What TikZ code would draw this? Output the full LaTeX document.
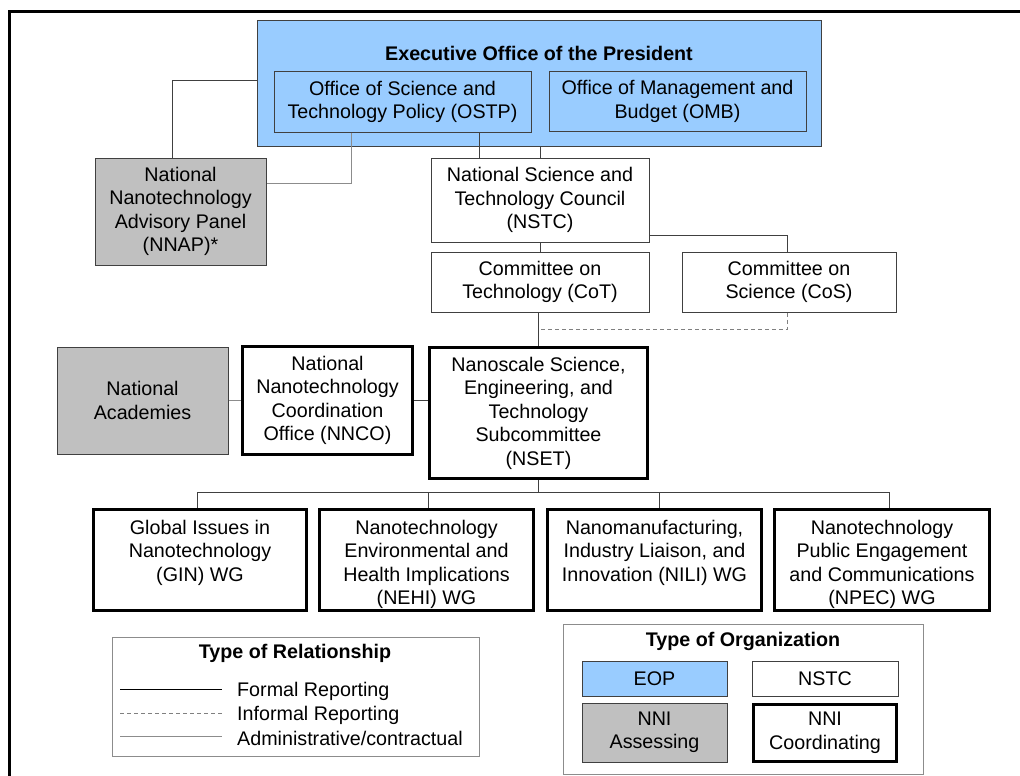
\documentclass[tikz,border=0pt]{standalone}
\usepackage{fontspec}
\setmainfont{Liberation Sans}
\definecolor{eopblue}{HTML}{99CCFF}
\definecolor{nnigray}{HTML}{C0C0C0}
\definecolor{edgecol}{HTML}{404040}
\definecolor{admincol}{HTML}{8C8C8C}
\begin{document}
\begin{tikzpicture}[x=1pt,y=-1pt,
  every node/.style={font=\fontsize{19.7}{23.5}\selectfont, align=center, inner sep=1pt},
  thinbox/.style={draw=edgecol, line width=1pt, rectangle},
  thickbox/.style={draw=black, line width=3pt, rectangle},
  formal/.style={draw=edgecol, line width=1pt},
  admin/.style={draw=admincol, line width=1pt},
  informal/.style={draw=gray, line width=1pt, dash pattern=on 4pt off 3pt},
  boldtitle/.style={font=\fontsize{19.7}{23.5}\selectfont\bfseries},
]
\useasboundingbox (0,0) rectangle (1020,776);
\fill[white] (0,0) rectangle (1020,776);
% outer frame (cropped)
\draw[line width=3pt] (9,776) -- (9,12) -- (1020,12);

% EOP
\node[thinbox, fill=eopblue, minimum width=564pt, minimum height=125pt] (EOP) at (539,83.5) {};
\node[boldtitle] (EOPt) at (539,53) {Executive Office of the President};
\node[thinbox, fill=eopblue, minimum width=257pt, minimum height=60pt] (OSTP) at (402.5,102) {Office of Science and\\Technology Policy (OSTP)};
\node[thinbox, fill=eopblue, minimum width=257pt, minimum height=60pt] (OMB) at (677.5,101.5) {Office of Management and\\Budget (OMB)};

% Advisory / NSTC
\node[thinbox, fill=nnigray, minimum width=171pt, minimum height=107pt] (NNAP) at (180.5,211.5) {National\\Nanotechnology\\Advisory Panel\\(NNAP)*};
\node[thinbox, fill=white, minimum width=218pt, minimum height=84pt] (NSTC) at (540,200) {National Science and\\Technology Council\\(NSTC)};
\node[thinbox, minimum width=218pt, minimum height=60pt] (CoT) at (540,282) {Committee on\\Technology (CoT)};
\node[thinbox, minimum width=214pt, minimum height=60pt] (CoS) at (789,282) {Committee on\\Science (CoS)};

% middle row
\node[thinbox, fill=nnigray, minimum width=171pt, minimum height=107pt] (NA) at (142.5,400.5) {National\\Academies};
\node[thickbox, minimum width=170pt, minimum height=108pt] (NNCO) at (327.5,400.5) {National\\Nanotechnology\\Coordination\\Office (NNCO)};
\node[thickbox, minimum width=218pt, minimum height=131pt] (NSET) at (538.5,413) {Nanoscale Science,\\Engineering, and\\Technology\\Subcommittee\\(NSET)};

% working groups
\node[thickbox, minimum width=213pt, minimum height=101pt] (GIN) at (200,560) {};
\node[thickbox, minimum width=214pt, minimum height=101pt] (NEHI) at (426.5,560) {};
\node[thickbox, minimum width=214pt, minimum height=101pt] (NILI) at (654.5,560) {};
\node[thickbox, minimum width=215pt, minimum height=101pt] (NPEC) at (882,560) {};
\node[anchor=north] (GINt) at (200,519) {Global Issues in\\Nanotechnology\\(GIN) WG};
\node[anchor=north] (NEHIt) at (426.5,519) {Nanotechnology\\Environmental and\\Health Implications\\(NEHI) WG};
\node[anchor=north] (NILIt) at (654.5,519) {Nanomanufacturing,\\Industry Liaison, and\\Innovation (NILI) WG};
\node[anchor=north] (NPECt) at (882,519) {Nanotechnology\\Public Engagement\\and Communications\\(NPEC) WG};

% helper coordinates
\coordinate (a1) at (172,81);
\coordinate (a2) at (351,183);
\coordinate (a3) at (479,0);
\coordinate (a4) at (0,235);
\coordinate (a5) at (0,329);
\coordinate (bus) at (0,492);
\coordinate (d1) at (197,0);
\coordinate (d2) at (428,0);
\coordinate (d3) at (659,0);
\coordinate (d4) at (889,0);

% connectors
\draw[formal] (a1 -| EOP.west) -| (NNAP.north -| a1);
\draw[admin] (OSTP.south -| a2) |- (NNAP.east |- a2);
\draw[formal] (OSTP.south -| a3) -- (NSTC.north -| a3);
\draw[formal] (EOP.south -| NSTC.north) -- (NSTC.north);
\draw[formal] (NSTC.south) -- (CoT.north);
\draw[formal] (NSTC.east |- a4) -| (CoS.north -| 787,0);
\draw[formal] (CoT.south -| NSET.north) -- (NSET.north);
\draw[informal] (CoS.south -| 787,0) |- (NSET.north |- a5);
\draw[admin] (NA.east |- NNCO.east) -- (NNCO.west);
\draw[formal] (NNCO.east) -- (NNCO.east -| NSET.west);
\draw[formal] (NSET.south) -- (NSET.south |- bus);
\draw[formal] (GIN.north -| d1) |- (bus -| d4) -- (NPEC.north -| d4);
\draw[formal] (bus -| d2) -- (NEHI.north -| d2);
\draw[formal] (bus -| d3) -- (NILI.north -| d3);

% legend: relationship
\node[thinbox, draw=admincol, minimum width=367pt, minimum height=119pt] (L1) at (295.5,696.5) {};
\node[boldtitle] (L1t) at (295,653) {Type of Relationship};
\coordinate (l1a) at (120,689);
\coordinate (l1b) at (222,689);
\coordinate (l2a) at (120,713);
\coordinate (l2b) at (222,713);
\coordinate (l3a) at (120,736);
\coordinate (l3b) at (222,736);
\draw[black, line width=1pt] (l1a) -- (l1b);
\draw[informal] (l2a) -- (l2b);
\draw[admin] (l3a) -- (l3b);
\node[anchor=west, inner sep=0pt] (f1) at (237,691) {Formal Reporting};
\node[anchor=west, inner sep=0pt] (f2) at (237,715) {Informal Reporting};
\node[anchor=west, inner sep=0pt] (f3) at (237,738) {Administrative/contractual};

% legend: organization
\node[thinbox, draw=admincol, minimum width=360pt, minimum height=150pt] (L2) at (743,699) {};
\node[boldtitle] (L2t) at (743,641) {Type of Organization};
\node[thinbox, fill=eopblue, minimum width=145pt, minimum height=35pt] (sEOP) at (654.5,678.5) {EOP};
\node[thinbox, minimum width=146pt, minimum height=35pt] (sNSTC) at (825,678.5) {NSTC};
\node[thinbox, fill=nnigray, minimum width=145pt, minimum height=59pt] (sAss) at (654.5,732.5) {NNI\\Assessing};
\node[thickbox, minimum width=143pt, minimum height=57pt] (sCoord) at (825,733) {NNI\\Coordinating};
\end{tikzpicture}
\end{document}
